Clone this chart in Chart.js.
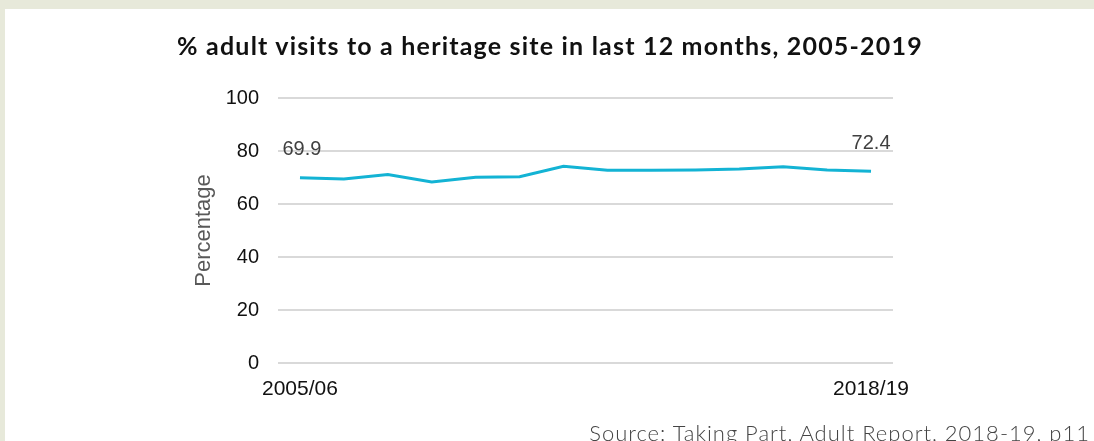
<!DOCTYPE html>
<html>
<head>
<meta charset="utf-8">
<script src="https://cdn.jsdelivr.net/npm/chart.js@4"></script>
<style>
  html, body { margin: 0; padding: 0; }
  body { width: 1094px; height: 441px; background: #e7e9da; position: relative; overflow: hidden; }
  #panel { position: absolute; left: 5px; top: 9px; width: 1089px; height: 432px; background: #fff; }
  #title { position: absolute; left: 0; top: 30px; width: 1100px; text-align: center;
           font-family: Lato, sans-serif; font-weight: 700; font-size: 25px; letter-spacing: 1.2px; color: #111; }
  #source { position: absolute; right: 4px; top: 419px; font-family: Lato, sans-serif; font-weight: 300;
            font-size: 22px; letter-spacing: 1px; color: #444; white-space: nowrap; }
  #wrap { position: absolute; left: 0; top: 0; width: 1089px; height: 432px; }
</style>
</head>
<body>
<div id="panel">
  <div id="wrap"><canvas id="heritage"></canvas></div>
</div>
<div id="title">% adult visits to a heritage site in last 12 months, 2005-2019</div>
<div id="source">Source: Taking Part, Adult Report, 2018-19, p11</div>
<script>
'use strict';

// data
var years = ["2005/06", "2006/07", "2007/08", "2008/09", "2009/10", "2010/11", "2011/12",
             "2012/13", "2013/14", "2014/15", "2015/16", "2016/17", "2017/18", "2018/19"];
var visits = [69.9, 69.4, 71.1, 68.3, 70.1, 70.3, 74.2, 72.7, 72.7, 72.8, 73.2, 74.1, 72.8, 72.4];
var yTicks = [0, 20, 40, 60, 80, 100];
var shownLabels = ["2005/06", "2018/19"];

// value labels over first and last point
const endLabels = {
  id: 'endLabels',
  afterDatasetsDraw(chart) {
    const ctx = chart.ctx;
    const meta = chart.getDatasetMeta(0);
    const last = visits.length - 1;
    ctx.save();
    ctx.font = '20px "Liberation Sans", Arial, sans-serif';
    ctx.fillStyle = '#404040';
    ctx.textAlign = 'center';
    ctx.textBaseline = 'middle';
    [0, last].forEach(function (i) {
      const pt = meta.data[i];
      ctx.fillText(visits[i].toFixed(1), pt.x + (i === 0 ? 2 : 0), pt.y - 28);
    });
    ctx.restore();
  }
};

const ctx = document.getElementById('heritage');

window.heritageChart = new Chart(ctx, {
  type: 'line',
  data: {
    labels: years,
    datasets: [{
      label: 'Heritage visits %',
      data: visits,
      borderColor: '#13b3d4',
      borderWidth: 3,
      tension: 0,
      pointRadius: 0,
      pointHoverRadius: 0
    }]
  },
  options: {
    responsive: true,
    maintainAspectRatio: false,
    animation: false,
    layout: {
      padding: { left: 180, right: 201, top: 89, bottom: 18 }
    },
    plugins: {
      legend: { display: false },
      tooltip: { enabled: false }
    },
    scales: {
      x: {
        offset: true,
        grid: { display: false, drawTicks: false },
        border: { display: false },
        afterFit: function (scale) { scale.height = 60; },
        ticks: {
          autoSkip: false,
          maxRotation: 0,
          padding: 14,
          color: '#111',
          font: { family: '"Liberation Sans", Arial, sans-serif', size: 21 },
          callback: function (val, i) {
            const lab = years[i];
            return shownLabels.indexOf(lab) >= 0 ? lab : '';
          }
        }
      },
      y: {
        min: yTicks[0],
        max: yTicks[yTicks.length - 1],
        afterFit: function (scale) { scale.width = 93; },
        afterBuildTicks: function (scale) {
          scale.ticks = yTicks.map(function (v) { return { value: v }; });
        },
        title: {
          display: true,
          text: 'Percentage',
          color: '#595959',
          padding: { top: 6, bottom: 0 },
          font: { family: '"Liberation Sans", Arial, sans-serif', size: 22 }
        },
        ticks: {
          padding: 19,
          color: '#111',
          font: { family: '"Liberation Sans", Arial, sans-serif', size: 20 }
        },
        grid: { color: '#d9d9d9', lineWidth: 2, drawTicks: false },
        border: { display: false }
      }
    }
  },
  plugins: [endLabels]
});
</script>
</body>
</html>
